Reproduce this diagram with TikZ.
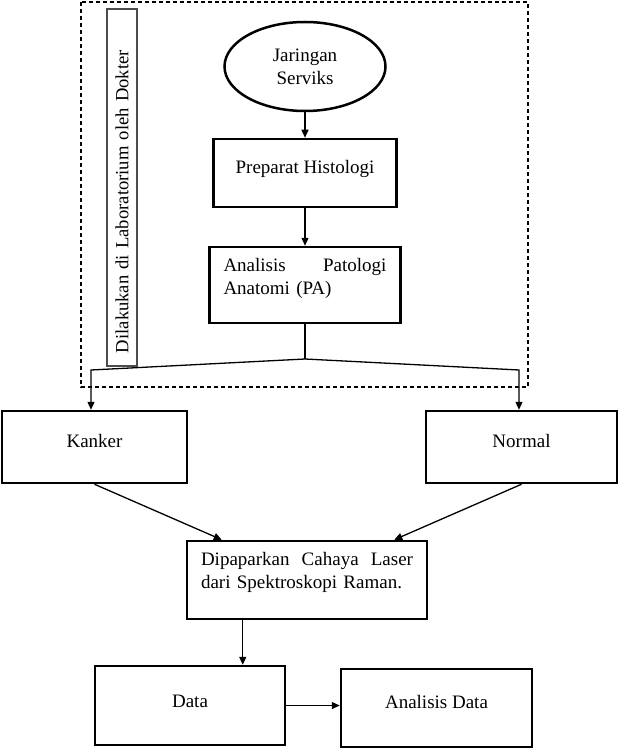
\documentclass[tikz,border=0pt]{standalone}
\usepackage{fontspec}
\setmainfont{Liberation Serif}
\usetikzlibrary{shapes.geometric,arrows.meta}
\hyphenpenalty=10000
\tikzset{
  box/.style={draw, line width=2.5pt, font=\fontsize{19}{23}\selectfont, align=center},
  lift/.style={text height=13pt, text depth=#1},
  link/.style={line width=1.3pt, -{Triangle[length=8pt,width=7pt]}},
}

\begin{document}
\begin{tikzpicture}[x=1pt,y=-1pt]
\useasboundingbox (0,0) rectangle (619,751);

\draw[line width=1.2pt, dash pattern=on 4pt off 3pt] (81,2) rectangle (528,387);
\node[draw=black!70, line width=1.2pt, rotate=90, minimum width=357pt, minimum height=30pt,
      text width=331pt, align=left, inner sep=0pt, font=\fontsize{18.6}{23}\selectfont]
      (lab) at (122,187.5) {Dilakukan di Laboratorium oleh Dokter};

\node[box, ellipse, minimum width=161pt, minimum height=89pt] (jaringan) at (305,66.5) {Jaringan\\Serviks};
\node[box, lift=12pt, minimum width=183pt, minimum height=68pt] (preparat) at (305,173) {Preparat Histologi};
\node[box, align=left, text width=163pt, text depth=40pt, minimum width=191pt, minimum height=76pt] (pa) at (305,285)
      {Analisis\hfill Patologi\\Anatomi (PA)};

\node[box, lift=12pt, minimum width=185pt, minimum height=72pt] (kanker) at (94.5,447) {Kanker};
\node[box, lift=12pt, minimum width=191pt, minimum height=72pt] (normal) at (521.5,447) {Normal};

\node[box, align=left, text width=212pt, text depth=43pt, minimum width=240pt, minimum height=78pt] (laser) at (307,580)
      {Dipaparkan\hfill Cahaya\hfill Laser\\dari Spektroskopi Raman.};

\node[box, lift=9pt, minimum width=190pt, minimum height=79pt] (data) at (190,705.5) {Data};
\node[box, lift=12pt, minimum width=191pt, minimum height=78pt] (analisis) at (436.5,708) {Analisis Data};

\coordinate (split) at (305,359);
\coordinate (kbend) at (91,370);
\coordinate (nbend) at (519,370);
\coordinate (drop) at ([xshift=57pt]laser.south west);

\draw[link] (jaringan) -- (preparat);
\draw[link] (preparat) -- (pa);
\draw[line width=1.3pt] (pa.south) -- (split);
\draw[link] (split) -- (kbend) -- (kbend |- kanker.north);
\draw[link] (split) -- (nbend) -- (nbend |- normal.north);
\draw[link] (kanker.south) -- ([xshift=36pt]laser.north west);
\draw[link] (normal.south) -- ([xshift=-34pt]laser.north east);
\draw[link] (drop) -- (drop |- data.north);
\draw[link] (data.east) -- (data.east -| analisis.west);
\end{tikzpicture}
\end{document}
